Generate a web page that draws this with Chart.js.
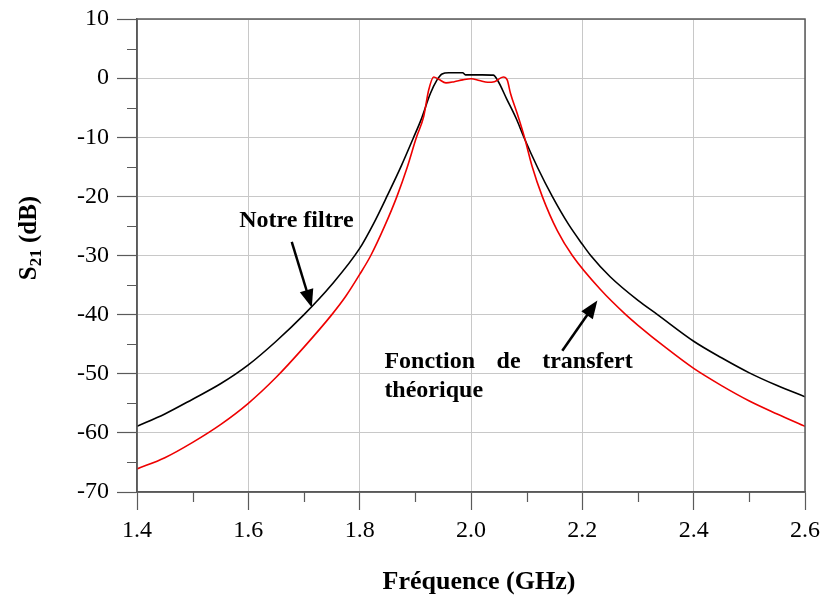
<!DOCTYPE html>
<html>
<head>
<meta charset="utf-8">
<script src="https://cdn.jsdelivr.net/npm/chart.js@4.4.1/dist/chart.umd.min.js"></script>
<style>
  body { margin: 0; background: #fff; }
</style>
</head>
<body>
<canvas id="s21-chart" width="824" height="599"></canvas>
<script>
// Datas
const freqFiltre = [1.40, 1.45, 1.50, 1.55, 1.60, 1.65, 1.70, 1.75, 1.80, 1.825, 1.85, 1.875, 1.897, 1.91, 1.927, 1.939, 1.948, 1.96, 1.985, 1.99, 2.02, 2.04, 2.048, 2.064, 2.082, 2.095, 2.12, 2.146, 2.175, 2.20, 2.215, 2.25, 2.30, 2.335, 2.40, 2.45, 2.50, 2.55, 2.60];
const s21Filtre = [-58.9, -56.8, -54.3, -51.7, -48.5, -44.5, -40.0, -34.9, -28.8, -24.6, -19.8, -14.8, -10.0, -7.1, -2.6, -0.3, 0.7, 0.9, 0.9, 0.55, 0.55, 0.5, -0.4, -3.5, -7.0, -10.0, -15.2, -20.0, -24.7, -28.1, -30.0, -33.6, -37.6, -40.0, -44.5, -47.3, -49.85, -52.0, -53.9];

const freqTheorique = [1.40, 1.45, 1.50, 1.55, 1.60, 1.65, 1.70, 1.75, 1.775, 1.80, 1.82, 1.845, 1.867, 1.885, 1.902, 1.915, 1.924, 1.933, 1.942, 1.955, 1.97, 1.985, 2.00, 2.015, 2.03, 2.042, 2.058, 2.065, 2.071, 2.083, 2.096, 2.11, 2.128, 2.155, 2.182, 2.233, 2.278, 2.30, 2.35, 2.40, 2.45, 2.50, 2.55, 2.60];
const s21Theorique = [-66.1, -64.2, -61.6, -58.6, -55.0, -50.6, -45.5, -40.0, -36.9, -33.2, -30.0, -25.0, -20.0, -15.2, -10.0, -6.5, -2.0, 0.2, -0.2, -0.8, -0.6, -0.3, -0.1, -0.4, -0.7, -0.6, 0.2, -0.3, -2.6, -6.0, -10.0, -15.0, -20.0, -25.8, -30.0, -35.8, -40.0, -41.8, -45.6, -49.1, -52.0, -54.6, -56.8, -58.9];

const xTickValues = [1.4, 1.6, 1.8, 2.0, 2.2, 2.4, 2.6];
const yTickValues = [10, 0, -10, -20, -30, -40, -50, -60, -70];

// annotations, in data units
const labelFiltre = { text: 'Notre filtre', x: 1.5835, y: -25.2 };
const labelTheorique = { words: ['Fonction', 'de', 'transfert'], line2: 'théorique', x0: 1.8444, x1: 2.2906, y: -49.0, y2: -53.9 };
const arrows = [
  { from: [1.678, -27.7], to: [1.714, -38.8] },
  { from: [2.164, -46.1], to: [2.227, -37.6] }
];

const serif = "'Liberation Serif', 'Times New Roman', serif";
const frameColor = '#5a5a5a';

function toPoints(xs, ys) {
  return xs.map((f, i) => ({ x: f, y: ys[i] }));
}

function drawArrow(ctx, x1, y1, x2, y2) {
  const ang = Math.atan2(y2 - y1, x2 - x1);
  const len = 18, half = 7;
  ctx.beginPath();
  ctx.moveTo(x1, y1);
  ctx.lineTo(x2 - Math.cos(ang) * len * 0.8, y2 - Math.sin(ang) * len * 0.8);
  ctx.lineWidth = 2.5;
  ctx.stroke();
  ctx.beginPath();
  ctx.moveTo(x2, y2);
  ctx.lineTo(x2 - Math.cos(ang) * len - Math.sin(ang) * half, y2 - Math.sin(ang) * len + Math.cos(ang) * half);
  ctx.lineTo(x2 - Math.cos(ang) * len + Math.sin(ang) * half, y2 - Math.sin(ang) * len - Math.cos(ang) * half);
  ctx.closePath();
  ctx.fill();
}

// frame, minor ticks, axis titles, notes
const decor = {
  id: 'decor',
  afterDraw(chart) {
    const { ctx, chartArea: a, scales: { x, y } } = chart;
    ctx.save();

    ctx.strokeStyle = frameColor;
    ctx.lineWidth = 1.5;
    ctx.strokeRect(a.left, a.top, a.right - a.left, a.bottom - a.top);

    // minor ticks halfway between major ones
    ctx.lineWidth = 1.2;
    ctx.beginPath();
    for (let i = 0; i < xTickValues.length - 1; i++) {
      const px = Math.round(x.getPixelForValue((xTickValues[i] + xTickValues[i + 1]) / 2)) + 0.5;
      ctx.moveTo(px, a.bottom);
      ctx.lineTo(px, a.bottom + 10);
    }
    for (let i = 0; i < yTickValues.length - 1; i++) {
      const py = Math.round(y.getPixelForValue((yTickValues[i] + yTickValues[i + 1]) / 2)) + 0.5;
      ctx.moveTo(a.left - 10, py);
      ctx.lineTo(a.left, py);
    }
    ctx.stroke();

    ctx.fillStyle = '#000';
    ctx.strokeStyle = '#000';

    // x title
    ctx.font = 'bold 26px ' + serif;
    ctx.textAlign = 'center';
    ctx.textBaseline = 'alphabetic';
    ctx.fillText('Fréquence (GHz)', 479, 589);

    // y title with subscript
    ctx.save();
    ctx.translate(36, 238);
    ctx.rotate(-Math.PI / 2);
    ctx.textAlign = 'left';
    const big = 'bold 25px ' + serif, small = 'bold 17px ' + serif;
    ctx.font = big; const wS = ctx.measureText('S').width; const wRest = ctx.measureText(' (dB)').width;
    ctx.font = small; const wSub = ctx.measureText('21').width;
    let cx = -(wS + wSub + wRest) / 2;
    ctx.font = big; ctx.fillText('S', cx, 0); cx += wS;
    ctx.font = small; ctx.fillText('21', cx, 5); cx += wSub;
    ctx.font = big; ctx.fillText(' (dB)', cx, 0);
    ctx.restore();

    // notes
    ctx.font = 'bold 24px ' + serif;
    ctx.textAlign = 'left';
    ctx.fillText(labelFiltre.text, x.getPixelForValue(labelFiltre.x), y.getPixelForValue(labelFiltre.y));

    const lx0 = x.getPixelForValue(labelTheorique.x0);
    const lx1 = x.getPixelForValue(labelTheorique.x1);
    const ly = y.getPixelForValue(labelTheorique.y);
    const widths = labelTheorique.words.map(w => ctx.measureText(w).width);
    const gap = (lx1 - lx0 - widths.reduce((s, w) => s + w, 0)) / (labelTheorique.words.length - 1);
    let wx = lx0;
    labelTheorique.words.forEach((w, i) => { ctx.fillText(w, wx, ly); wx += widths[i] + gap; });
    ctx.fillText(labelTheorique.line2, lx0, y.getPixelForValue(labelTheorique.y2));

    arrows.forEach(ar => {
      drawArrow(ctx,
        x.getPixelForValue(ar.from[0]), y.getPixelForValue(ar.from[1]),
        x.getPixelForValue(ar.to[0]), y.getPixelForValue(ar.to[1]));
    });

    ctx.restore();
  }
};

// Config
const options = {
  responsive: false,
  animation: false,
  layout: { padding: { left: 0, right: 19, top: 19, bottom: 0 } },
  scales: {
    x: {
      type: 'linear',
      min: 1.4,
      max: 2.6,
      afterBuildTicks: (scale) => { scale.ticks = xTickValues.map(v => ({ value: v })); },
      afterFit: (scale) => { scale.height = 107; scale.paddingLeft = 0; scale.paddingRight = 0; },
      ticks: {
        color: '#000',
        font: { family: serif, size: 24 },
        padding: 6,
        maxRotation: 0,
        callback: (v) => Number(v).toFixed(1)
      },
      grid: { color: '#c8c8c8', lineWidth: 1, tickLength: 18, tickColor: frameColor, tickWidth: 1.2 },
      border: { color: frameColor, width: 1.5 }
    },
    y: {
      min: -70,
      max: 10,
      afterBuildTicks: (scale) => { scale.ticks = yTickValues.map(v => ({ value: v })); },
      afterFit: (scale) => { scale.width = 137; scale.paddingTop = 0; scale.paddingBottom = 0; },
      ticks: {
        color: '#000',
        font: { family: serif, size: 24 },
        padding: 8,
        callback: (v) => String(v)
      },
      grid: { color: '#c8c8c8', lineWidth: 1, tickLength: 20, tickColor: frameColor, tickWidth: 1.2 },
      border: { color: frameColor, width: 1.5 }
    }
  },
  plugins: {
    legend: { display: false },
    tooltip: { enabled: false }
  }
};

// Initialisation
const ctx = document.getElementById('s21-chart').getContext('2d');
const s21Chart = new Chart(ctx, {
  type: 'line',
  data: {
    datasets: [{
      label: 'Notre filtre',
      data: toPoints(freqFiltre, s21Filtre),
      borderColor: '#000000',
      borderWidth: 1.6,
      pointRadius: 0,
      cubicInterpolationMode: 'monotone',
      order: 1
    }, {
      label: 'Fonction de transfert théorique',
      data: toPoints(freqTheorique, s21Theorique),
      borderColor: '#ee0000',
      borderWidth: 1.6,
      pointRadius: 0,
      cubicInterpolationMode: 'monotone',
      order: 0
    }]
  },
  options: options,
  plugins: [decor]
});
</script>
</body>
</html>
